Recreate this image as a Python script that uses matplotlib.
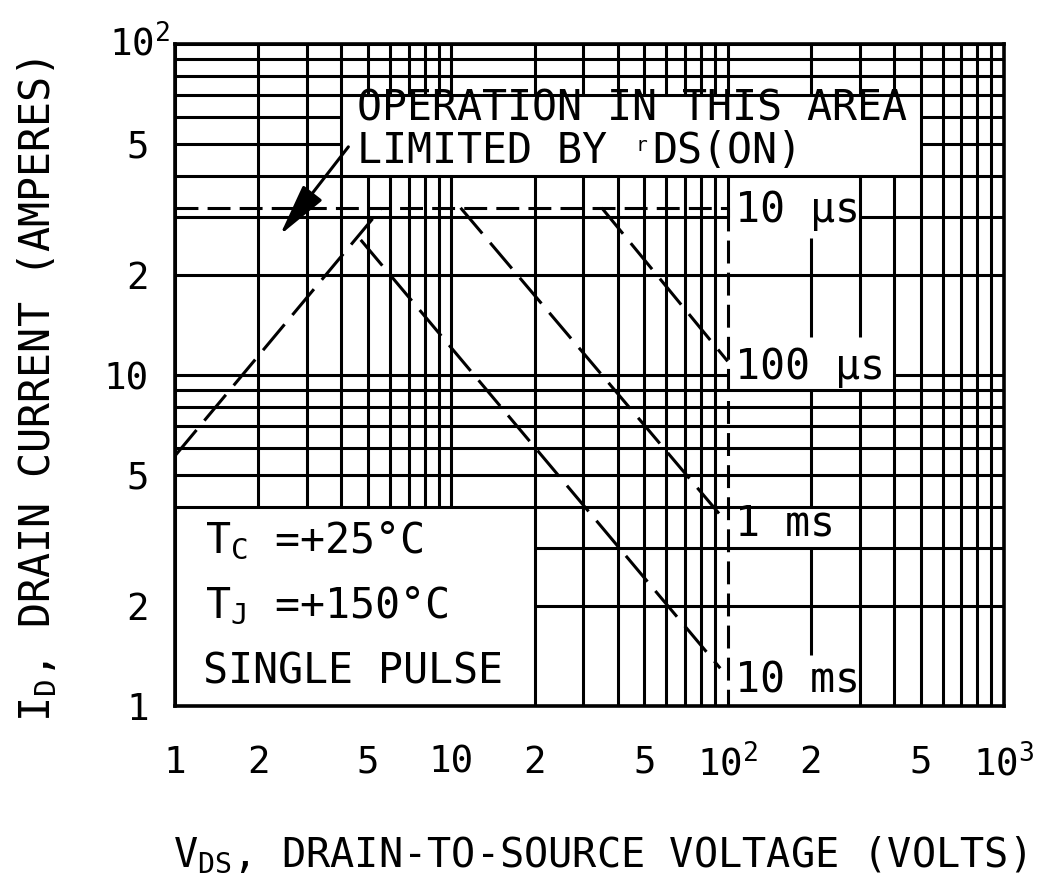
import matplotlib
matplotlib.use("Agg")
import matplotlib.pyplot as plt

# tick positions / labels
x_ticks = [1, 2, 5, 10, 20, 50, 100, 200, 500, 1000]
x_tick_labels = ["1", "2", "5", "10", "2", "5", "$10^2$", "2", "5", "$10^3$"]
y_ticks = [1, 2, 5, 10, 20, 50, 100]
y_tick_labels = ["1", "2", "5", "10", "2", "5", ""]

# safe operating area boundaries (volts, amperes)
rds_v = [1.0, 5.6]
rds_i = [5.7, 32.0]
limit_v = [1.0, 100.0]
limit_i = [32.0, 32.0]
dc_v = [100.0, 100.0]
dc_i = [32.0, 1.0]
us100_v = [35.0, 100.0]
us100_i = [32.0, 11.0]
ms1_v = [10.8, 96.0]
ms1_i = [32.0, 3.7]
ms10_v = [4.7, 94.0]
ms10_i = [25.6, 1.3]

curve_labels = ["10 µs", "100 µs", "1 ms", "10 ms"]
curve_label_i = [31.5, 10.6, 3.55, 1.19]

LW = 2.2
FS = 30
MONO = "DejaVu Sans Mono"

plt.rcParams["font.family"] = [MONO]
plt.rcParams["mathtext.fontset"] = "custom"
plt.rcParams["mathtext.rm"] = MONO
plt.rcParams["mathtext.it"] = MONO
plt.rcParams["mathtext.bf"] = MONO
plt.rcParams["mathtext.default"] = "rm"

# white areas where the grid is left out (x0, x1, y0, y1)
holes = [
    (4, 500, 40, 70),      # operation note
    (1, 20, 1, 4),         # conditions
    (100, 300, 26, 40),    # 10 us label
    (100, 400, 9, 13),     # 100 us label
    (100, 300, 3, 4),      # 1 ms label
    (100, 300, 1, 1.43),   # 10 ms label
]


def _cut(lo, hi, gaps):
    segs = [(lo, hi)]
    for a, b in gaps:
        out = []
        for s, e in segs:
            if b <= s or a >= e:
                out.append((s, e))
                continue
            if s < a:
                out.append((s, a))
            if b < e:
                out.append((b, e))
        segs = out
    return segs


fig = plt.figure(figsize=(10.6, 8.88), dpi=100)
ax = fig.add_axes([175 / 1060, 1 - 706 / 888, (1004 - 175) / 1060, (706 - 44) / 888])
ax.set_xscale("log")
ax.set_yscale("log")
ax.set_xlim(1, 1000)
ax.set_ylim(1, 100)

grid_x = [m * d for d in (1, 10, 100) for m in range(1, 10)] + [1000]
grid_y = [m * d for d in (1, 10) for m in range(1, 10)] + [100]

for gx in grid_x:
    gaps = [(y0, y1) for x0, x1, y0, y1 in holes if x0 < gx < x1]
    if gx == 100:
        gaps.append((1, 30))  # replaced by the dashed DC limit
    for s, e in _cut(1, 100, gaps):
        ax.vlines(gx, s, e, colors="k", lw=LW, zorder=1)

for gy in grid_y:
    gaps = [(x0, x1) for x0, x1, y0, y1 in holes if y0 < gy < y1]
    for s, e in _cut(1, 1000, gaps):
        ax.hlines(gy, s, e, colors="k", lw=LW, zorder=1)

short_dash = (0, (7.5, 3))
long_dash = (0, (11, 4))
for xs, ys in [(limit_v, limit_i), (dc_v, dc_i)]:
    ax.plot(xs, ys, color="k", lw=LW, ls=short_dash, zorder=3)
for xs, ys in [(rds_v, rds_i), (us100_v, us100_i), (ms1_v, ms1_i), (ms10_v, ms10_i)]:
    ax.plot(xs, ys, color="k", lw=LW, ls=long_dash, zorder=3)

for lab, yi in zip(curve_labels, curve_label_i):
    ax.text(106, yi, lab, fontsize=FS, ha="left", va="center", zorder=4)

ax.text(4.55, 64, "OPERATION IN THIS AREA", fontsize=FS, ha="left", va="center")
ax.text(4.55, 47.5, "LIMITED BY", fontsize=FS, ha="left", va="center")
ax.text(46.5, 49.5, "r", fontsize=14, ha="left", va="center")
ax.text(53.5, 47.5, "DS(ON)", fontsize=FS, ha="left", va="center")
ax.annotate("", xy=(2.4, 26.5), xytext=(4.24, 48.9),
            arrowprops=dict(arrowstyle="-|>,head_length=1.3,head_width=0.3",
                            color="k", lw=LW, mutation_scale=25, shrinkA=0, shrinkB=0))

ax.text(1.28, 2.9, "T$_C$ =+25°C", fontsize=FS, ha="left", va="baseline")
ax.text(1.28, 1.845, "T$_J$ =+150°C", fontsize=FS, ha="left", va="baseline")
ax.text(1.26, 1.17, "SINGLE PULSE", fontsize=FS, ha="left", va="baseline")

ax.set_xticks(x_ticks)
ax.set_xticklabels(x_tick_labels, fontsize=27)
ax.set_yticks(y_ticks)
ax.set_yticklabels(y_tick_labels, fontsize=27)
ax.minorticks_off()
ax.tick_params(axis="x", length=0, pad=28)
ax.tick_params(axis="y", length=0, pad=19)
for sp in ax.spines.values():
    sp.set_linewidth(LW + 0.4)

# top y label sits further right than the others
fig.text(170 / 1060, 1 - 56 / 888, "$10^2$", fontsize=27, ha="right", va="baseline")

fig.text(0.566, 0.037, "V$_{DS}$, DRAIN-TO-SOURCE VOLTAGE (VOLTS)", fontsize=29,
         ha="center", va="center")
fig.text(0.035, 0.561, "I$_D$, DRAIN CURRENT (AMPERES)", fontsize=FS,
         ha="center", va="center", rotation=90)

fig.savefig("out.png", dpi=100)
